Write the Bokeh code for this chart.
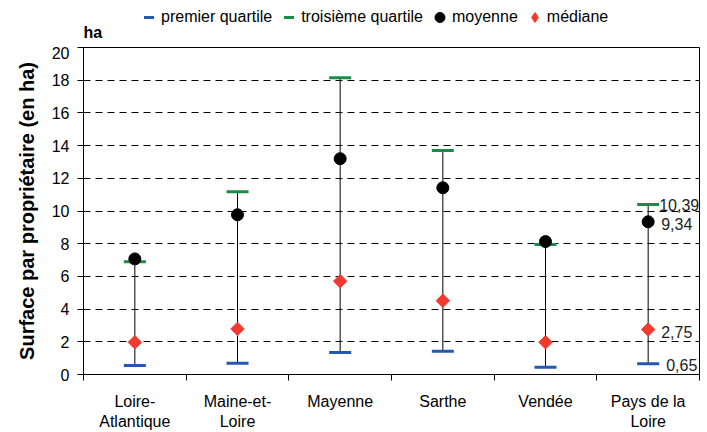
from math import pi
from bokeh.plotting import figure
from bokeh.layouts import column
from bokeh.models import Range1d, FixedTicker, Legend, LegendItem, ColumnDataSource, Label
from bokeh.core.properties import value
from bokeh.embed import file_html
from bokeh.resources import INLINE

categories = ["Loire-\nAtlantique", "Maine-et-\nLoire", "Mayenne", "Sarthe", "Vendée", "Pays de la\nLoire"]
premier_quartile = [0.55, 0.69, 1.34, 1.42, 0.45, 0.65]
troisieme_quartile = [6.9, 11.18, 18.15, 13.7, 7.95, 10.39]
moyenne = [7.07, 9.77, 13.2, 11.42, 8.13, 9.34]
mediane = [1.97, 2.79, 5.71, 4.51, 1.97, 2.75]
y_ticks = list(range(0, 21, 2))
series_names = ["premier quartile", "troisième quartile", "moyenne", "médiane"]
unit_label = "ha"

xs = [i + 0.5 for i in range(len(categories))]
lows = [min(a, b, c, d) for a, b, c, d in zip(premier_quartile, troisieme_quartile, moyenne, mediane)]
highs = [max(a, b, c, d) for a, b, c, d in zip(premier_quartile, troisieme_quartile, moyenne, mediane)]

FONT = "Liberation Sans"
BLUE = "#2458b0"
GREEN = "#1a8c48"
RED = "#f03a30"

W = 700
BL, BR = 83, 1
TOP_H = 46
Y0 = 200  # strip's vertical range starts well above the data, so its series points stay out of view

# ---------------- legend strip (top) ----------------
lg = figure(width=W, height=TOP_H, output_backend="svg", toolbar_location=None,
            x_range=Range1d(0, W - BL - BR), y_range=Range1d(Y0, Y0 + TOP_H),
            x_axis_location=None, y_axis_location=None,
            min_border_left=BL, min_border_right=BR, min_border_top=0, min_border_bottom=0)
lg.title = None
lg.xgrid.visible = False
lg.ygrid.visible = False
lg.outline_line_color = None
lg.background_fill_color = "white"
lg.border_fill_color = "white"

l_q1 = lg.scatter(xs, premier_quartile, marker="dash", line_color=BLUE, line_width=3)
l_q3 = lg.scatter(xs, troisieme_quartile, marker="dash", line_color=GREEN, line_width=3)
l_moy = lg.scatter(xs, moyenne, marker="circle", fill_color="black", line_color="black")
l_med = lg.scatter(xs, mediane, marker="diamond", fill_color=RED, line_color=RED)

legend = Legend(items=[LegendItem(label=n, renderers=[r]) for n, r in
                       zip(series_names, [l_q1, l_q3, l_moy, l_med])],
                orientation="horizontal", location=(53, 14), padding=0, margin=0,
                spacing=4, glyph_width=25, glyph_height=30, label_standoff=-4,
                label_text_font=FONT, label_text_font_size="16px", label_text_color="black",
                border_line_color=None, background_fill_alpha=0)
lg.add_layout(legend, "center")

lg.add_layout(Label(x=0, y=Y0 + 14, text=unit_label, text_font=FONT, text_font_size="16px",
                    text_font_style="bold", text_color="black", text_baseline="alphabetic"))

# ---------------- main chart ----------------
p = figure(width=W, height=432 - TOP_H, output_backend="svg", toolbar_location=None,
           x_range=Range1d(0, len(categories)), y_range=Range1d(0, 20),
           min_border_left=BL, min_border_top=1, min_border_bottom=57, min_border_right=BR)
p.title = None

p.outline_line_color = "black"
p.outline_line_alpha = 1
p.outline_line_width = 1
p.background_fill_color = "white"
p.border_fill_color = "white"

p.xgrid.visible = False
p.ygrid.ticker = FixedTicker(ticks=y_ticks[1:-1])
p.ygrid.grid_line_color = "black"
p.ygrid.grid_line_dash = "7 5"
p.ygrid.grid_line_width = 1

p.yaxis.ticker = FixedTicker(ticks=y_ticks)
p.yaxis.major_tick_in = 5
p.yaxis.major_tick_out = 6
p.yaxis.minor_tick_line_color = None
p.yaxis.axis_line_color = "black"
p.yaxis.major_tick_line_color = "black"
p.yaxis.major_label_text_font = FONT
p.yaxis.major_label_text_font_size = "16px"
p.yaxis.major_label_text_color = "black"
p.yaxis.major_label_standoff = 8
p.yaxis.axis_label = "Surface par propriétaire (en ha)"
p.yaxis.axis_label_text_font = FONT
p.yaxis.axis_label_text_font_size = "20px"
p.yaxis.axis_label_text_font_style = "bold"
p.yaxis.axis_label_text_color = "black"
p.yaxis.axis_label_standoff = 11

p.xaxis.ticker = FixedTicker(ticks=xs, minor_ticks=list(range(len(categories) + 1)))
p.xaxis.major_label_overrides = {x: c for x, c in zip(xs, categories)}
p.xaxis.major_tick_out = 0
p.xaxis.major_tick_in = 0
p.xaxis.minor_tick_out = 6
p.xaxis.minor_tick_in = 0
p.xaxis.minor_tick_line_color = "black"
p.xaxis.axis_line_color = "black"
p.xaxis.major_label_text_font = FONT
p.xaxis.major_label_text_font_size = "16px"
p.xaxis.major_label_text_color = "black"
p.xaxis.major_label_standoff = 12

p.segment(x0=xs, y0=lows, x1=xs, y1=highs, line_color="black", line_width=1)

p.scatter(xs, premier_quartile, marker="dash", size=22, line_color=BLUE, line_width=3)
p.scatter(xs, troisieme_quartile, marker="dash", size=22, line_color=GREEN, line_width=3)
p.scatter(xs, moyenne, marker="circle", size=12, fill_color="black", line_color="black")
p.scatter(xs, mediane, marker="square", angle=pi / 4, size=9.5, fill_color=RED, line_color=RED)

# data labels for the last category
last = len(categories) - 1
lab_vals = [troisieme_quartile[last], moyenne[last], mediane[last], premier_quartile[last]]
lab_src = ColumnDataSource(dict(
    x=[xs[last]] * 4,
    y=lab_vals,
    t=[("%.2f" % v).replace(".", ",") for v in lab_vals],
    xo=[11, 13, 13, 18],
    yo=[0, 2, 2, 1],
))
p.text(x="x", y="y", text="t", x_offset="xo", y_offset="yo", source=lab_src,
       text_font=value("Liberation Sans Narrow, Liberation Sans, sans-serif"), text_font_size="16px",
       text_color="#222222", text_baseline="middle", text_align="left")

layout = column(lg, p, spacing=0)
open("out.html", "w").write(file_html(layout, INLINE))
